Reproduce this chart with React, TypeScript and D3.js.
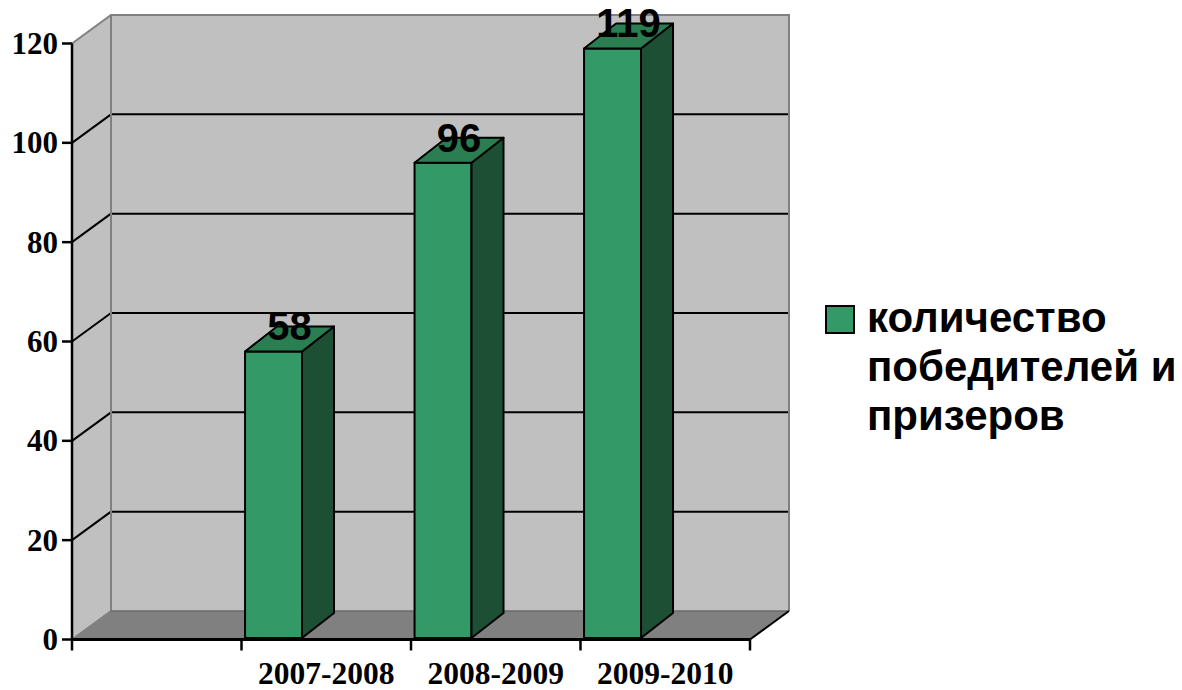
import React from "react";
import * as d3 from "d3";

const categories: string[] = ["", "2007-2008", "2008-2009", "2009-2010"];
const values: (number | null)[] = [null, 58, 96, 119];
const yTicks: number[] = [0, 20, 40, 60, 80, 100, 120];
const seriesName: string[] = ["количество", "победителей и", "призеров"];

export default function App() {
  const W = 1182, H = 690;
  const x0 = 72, x1 = 750;
  const wdx = 39, wdy = -28.5; // wall depth
  const bdx = 32, bdy = -25; // bar depth
  const x = d3.scaleBand<string>().domain(categories).range([x0, x1]).padding(0);
  const y = d3.scaleLinear().domain([0, 120]).range([639.5, 43.5]);
  const bw = x.bandwidth();
  const yTop = y(120), yBot = y(0);
  const serif = "'Liberation Serif', 'Times New Roman', serif";
  const sans = "'Liberation Sans', Arial, sans-serif";
  const front = "#339966", side = "#1d4f34", top = "#2b7d52";
  const boundaries = [...categories.map((c) => x(c) as number), x1];

  return (
    <svg width={W} height={H} style={{ position: "absolute", left: 0, top: 0 }}>
      <rect width={W} height={H} fill="#fff" />
      {/* left wall */}
      <polygon
        points={`${x0},${yTop} ${x0 + wdx},${yTop + wdy} ${x0 + wdx},${yBot + wdy} ${x0},${yBot}`}
        fill="#c0c0c0"
      />
      {/* back wall */}
      <rect x={x0 + wdx} y={yTop + wdy} width={x1 - x0} height={yBot - yTop} fill="#c0c0c0" />
      {/* floor */}
      <polygon
        points={`${x0},${yBot} ${x0 + wdx},${yBot + wdy} ${x1 + wdx},${yBot + wdy} ${x1},${yBot}`}
        fill="#808080"
      />
      {/* gridlines */}
      {yTicks.filter((t) => t > 0 && t < 120).map((t) => (
        <g key={t} stroke="#000" strokeWidth={2}>
          <line x1={x0} y1={y(t)} x2={x0 + wdx} y2={y(t) + wdy} />
          <line x1={x0 + wdx} y1={y(t) + wdy} x2={x1 + wdx} y2={y(t) + wdy} />
        </g>
      ))}
      {/* wall edges */}
      <g stroke="#808080" strokeWidth={2} fill="none">
        <polyline points={`${x0},${yTop} ${x0 + wdx},${yTop + wdy} ${x1 + wdx},${yTop + wdy} ${x1 + wdx},${yBot + wdy}`} />
        <line x1={x0 + wdx} y1={yTop + wdy} x2={x0 + wdx} y2={yBot + wdy} />
        <line x1={x0} y1={yBot} x2={x0 + wdx} y2={yBot + wdy} />
      </g>
      <line x1={x0 + wdx} y1={yBot + wdy} x2={x1 + wdx} y2={yBot + wdy} stroke="#6a6a6a" strokeWidth={1.5} />
      <line x1={x1} y1={yBot} x2={x1 + wdx} y2={yBot + wdy} stroke="#000" strokeWidth={2} />
      {/* bars */}
      {categories.map((c, i) => {
        const v = values[i];
        if (v == null) return null;
        const bx = (x(c) as number) + bw * 0.021;
        const w = bw * 0.336;
        const yt = y(v);
        return (
          <g key={c} stroke="#000" strokeWidth={2} strokeLinejoin="round">
            <rect x={bx} y={yt} width={w} height={yBot - 1.5 - yt} fill={front} />
            <polygon
              points={`${bx + w},${yt} ${bx + w + bdx},${yt + bdy} ${bx + w + bdx},${yBot - 1.5 + bdy} ${bx + w},${yBot - 1.5}`}
              fill={side}
            />
            <polygon
              points={`${bx},${yt} ${bx + bdx},${yt + bdy} ${bx + w + bdx},${yt + bdy} ${bx + w},${yt}`}
              fill={top}
            />
          </g>
        );
      })}
      {categories.map((c, i) => {
        const v = values[i];
        if (v == null) return null;
        const bx = (x(c) as number) + bw * 0.021;
        const w = bw * 0.336;
        return (
          <text key={"l" + c} x={bx + w / 2 + bdx / 2} y={y(v) - 11} textAnchor="middle"
            fontFamily={sans} fontWeight="bold" fontSize={40} fill="#000">
            {v}
          </text>
        );
      })}
      {/* y axis */}
      <line x1={x0} y1={yTop} x2={x0} y2={yBot} stroke="#000" strokeWidth={2.5} />
      {yTicks.map((t) => (
        <g key={"yt" + t}>
          <line x1={x0 - 10} y1={y(t)} x2={x0} y2={y(t)} stroke="#000" strokeWidth={2.5} />
          <text x={58} y={y(t) + 10.5} textAnchor="end" fontFamily={serif} fontWeight="bold" fontSize={31} fill="#000">
            {t}
          </text>
        </g>
      ))}
      {/* x axis */}
      <line x1={x0} y1={yBot} x2={x1} y2={yBot} stroke="#000" strokeWidth={3} />
      {boundaries.map((b, i) => (
        <line key={"xt" + i} x1={b} y1={yBot} x2={b} y2={yBot + 11} stroke="#000" strokeWidth={2.5} />
      ))}
      {categories.map((c) => (
        <text key={"xl" + c} x={(x(c) as number) + bw / 2} y={684} textAnchor="middle"
          fontFamily={serif} fontWeight="bold" fontSize={31.5} fill="#000">
          {c}
        </text>
      ))}
      {/* legend */}
      <rect x={826} y={306} width={28} height={27} fill={front} stroke="#000" strokeWidth={2} />
      {seriesName.map((s, i) => (
        <text key={s} x={867} y={332 + i * 49} fontFamily={sans} fontWeight="bold" fontSize={42} fill="#000">
          {s}
        </text>
      ))}
    </svg>
  );
}
